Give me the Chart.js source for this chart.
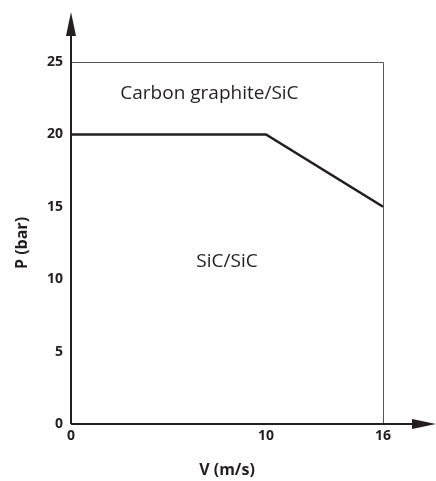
<!DOCTYPE html>
<html>
<head>
<meta charset="utf-8">
<script src="https://cdn.jsdelivr.net/npm/chart.js@4"></script>
<style>
    body { margin: 0; background: #fff; }
    #wrap { width: 436px; height: 481px; }
</style>
</head>
<body>
<div id="wrap"><canvas id="sealChart"></canvas></div>
<script>
// operating limit of the seal faces
const speeds = [0, 10, 16];
const pressures = [20, 20, 15];

const xTicks = [0, 10, 16];
const yTicks = [0, 5, 10, 15, 20, 25];

const regionLabels = ["Carbon graphite/SiC", "SiC/SiC"];

const ink = "#231f20";

// box, arrowed axes and region names
const framePlugin = {
    id: "frame",
    beforeDatasetsDraw(chart) {
        let ctx = chart.ctx;
        let a = chart.chartArea;
        ctx.save();
        ctx.strokeStyle = "#555";
        ctx.lineWidth = 1;
        ctx.beginPath();
        ctx.moveTo(a.left, a.top + 0.5);
        ctx.lineTo(a.right + 0.5, a.top + 0.5);
        ctx.lineTo(a.right + 0.5, a.bottom);
        ctx.stroke();
        ctx.restore();
    },
    afterDatasetsDraw(chart) {
        let ctx = chart.ctx;
        let a = chart.chartArea;
        let xs = chart.scales.x, ys = chart.scales.y;
        ctx.save();
        ctx.strokeStyle = ink;
        ctx.fillStyle = ink;
        ctx.lineWidth = 2;
        ctx.beginPath();
        ctx.moveTo(a.left, a.bottom);
        ctx.lineTo(a.left, 30);
        ctx.moveTo(a.left, a.bottom);
        ctx.lineTo(420, a.bottom);
        ctx.stroke();
        // arrow heads
        ctx.beginPath();
        ctx.moveTo(a.left, 12);
        ctx.lineTo(a.left - 5, 36);
        ctx.lineTo(a.left + 5, 36);
        ctx.closePath();
        ctx.fill();
        ctx.beginPath();
        ctx.moveTo(436, a.bottom);
        ctx.lineTo(412, a.bottom - 5);
        ctx.lineTo(412, a.bottom + 5);
        ctx.closePath();
        ctx.fill();

        ctx.font = "19px 'Open Sans'";
        ctx.textAlign = "center";
        ctx.textBaseline = "middle";
        ctx.fillText(regionLabels[0], xs.getPixelForValue(7.1), ys.getPixelForValue(22.8));
        ctx.fillText(regionLabels[1], xs.getPixelForValue(8), ys.getPixelForValue(11.2));
        ctx.restore();
    }
};

new Chart(document.getElementById("sealChart"), {
    type: "scatter",
    data: {
        datasets: [{
            data: speeds.map((v, i) => ({ x: v, y: pressures[i] })),
            showLine: true,
            borderColor: ink,
            borderWidth: 2.5,
            pointRadius: 0,
            fill: false
        }]
    },
    options: {
        responsive: true,
        maintainAspectRatio: false,
        animation: false,
        layout: { padding: { top: 62, right: 53, left: 0, bottom: 0 } },
        plugins: {
            legend: { display: false },
            tooltip: { enabled: false }
        },
        scales: {
            x: {
                type: "linear",
                min: 0,
                max: 16,
                afterBuildTicks: axis => { axis.ticks = xTicks.map(v => ({ value: v })); },
                afterFit: axis => { axis.height = 57; },
                grid: { display: false, drawTicks: false },
                border: { display: false },
                ticks: {
                    color: ink,
                    padding: 4,
                    font: { family: "Open Sans", size: 14, weight: "bold" }
                },
                title: {
                    display: true,
                    text: "V (m/s)",
                    color: ink,
                    padding: { top: 0, bottom: 1 },
                    font: { family: "Open Sans", size: 16, weight: "bold" }
                }
            },
            y: {
                min: 0,
                max: 25,
                afterBuildTicks: axis => { axis.ticks = yTicks.map(v => ({ value: v })); },
                afterFit: axis => { axis.width = 71; },
                grid: { display: false, drawTicks: false },
                border: { display: false },
                ticks: {
                    color: ink,
                    padding: 8,
                    font: { family: "Open Sans", size: 14, weight: "bold" }
                },
                title: {
                    display: true,
                    text: "P (bar)",
                    color: ink,
                    padding: { top: 13, bottom: 0 },
                    font: { family: "Open Sans", size: 16, weight: "bold" }
                }
            }
        }
    },
    plugins: [framePlugin]
});
</script>
</body>
</html>
